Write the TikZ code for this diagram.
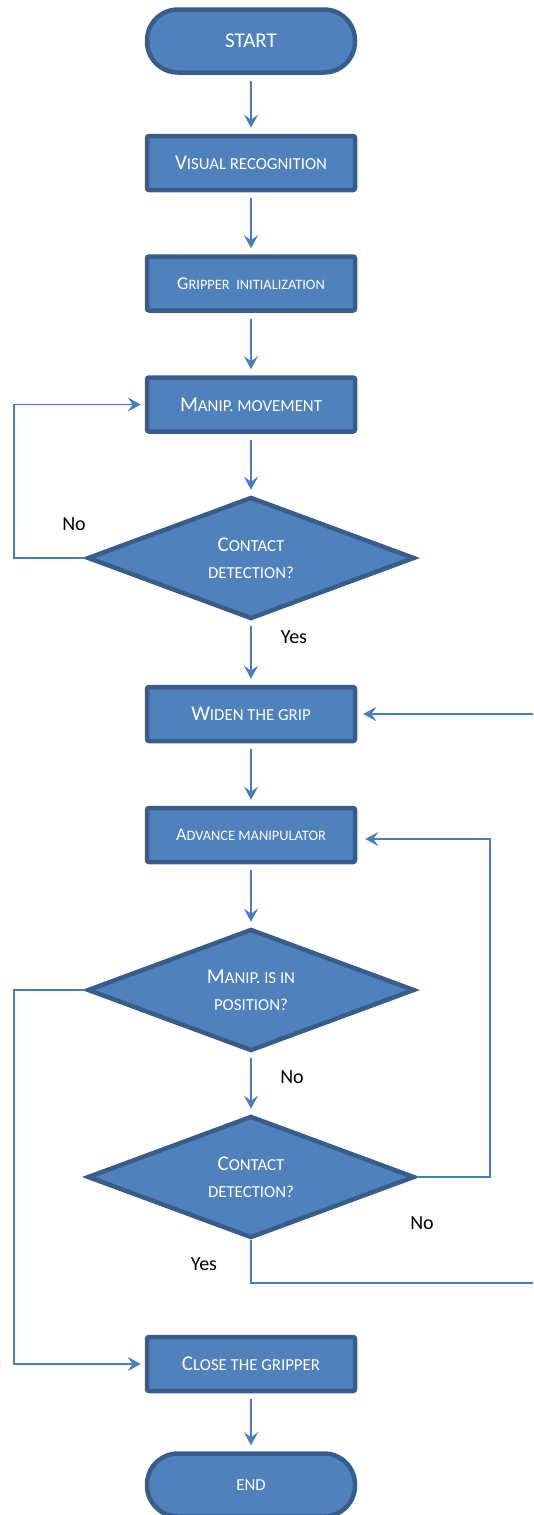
\documentclass[tikz,border=0pt]{standalone}
\usepackage{fontspec}
\setmainfont{Carlito}
\newfontfamily\smallcapsfam[Scale=0.8]{Carlito}
\usetikzlibrary{shapes.geometric,arrows.meta}
\definecolor{boxfill}{HTML}{4F81BD}
\definecolor{boxline}{HTML}{385D8A}
\definecolor{wire}{HTML}{4A7EBB}
% fake small caps: first letter full size, the rest scaled capitals
\newcommand\sct[1]{{\smallcapsfam #1}}
\begin{document}
\begin{tikzpicture}[x=1pt,y=-1pt,
  every node/.style={font=\fontsize{21}{27}\selectfont},
  procbox/.style={rectangle,rounded corners=2pt,draw=boxline,line width=4.5pt,fill=boxfill,
    text=white,minimum width=208pt,minimum height=54pt,inner sep=0pt,align=center},
  termbox/.style={rectangle,rounded corners=31pt,draw=boxline,line width=4.5pt,fill=boxfill,
    text=white,minimum width=208pt,minimum height=63pt,inner sep=0pt,align=center},
  decbox/.style={diamond,aspect=2.6,draw=boxline,line width=4.5pt,fill=boxfill,
    text=white,minimum width=327pt,minimum height=122pt,inner sep=0pt,align=center},
  flow/.style={draw=wire,line width=1.8pt,-{Stealth[length=13pt,width=14pt,inset=5pt]}},
  wireline/.style={draw=wire,line width=1.8pt},
  lbl/.style={text=black,anchor=base,font=\fontsize{20}{24}\selectfont}]
\useasboundingbox (0,0) rectangle (533,1515);

\node[termbox] (start) at (251,41) {START};
\node[procbox] (visual) at (251,163) {V\sct{ISUAL RECOGNITION}};
\node[procbox,font=\fontsize{18}{22}\selectfont] (grip) at (251,283.5) {G\sct{RIPPER\ \ INITIALIZATION}};
\node[procbox] (move) at (251,404.5) {M\sct{ANIP. MOVEMENT}};
\node[decbox] (contact1) at (251,558) {C\sct{ONTACT}\\\sct{DETECTION?}};
\node[procbox] (widen) at (251,714) {W\sct{IDEN THE GRIP}};
\node[procbox,font=\fontsize{18}{22}\selectfont] (advance) at (251,835) {A\sct{DVANCE MANIPULATOR}};
\node[decbox] (inpos) at (251,990) {M\sct{ANIP. IS IN}\\\sct{POSITION?}};
\node[decbox] (contact2) at (251,1177) {C\sct{ONTACT}\\\sct{DETECTION?}};
\node[procbox] (close) at (251,1364) {C\sct{LOSE THE GRIPPER}};
\node[termbox] (finish) at (251,1485) {\sct{END}};

% straight downward flow
\draw[flow,shorten <=6pt,shorten >=6pt] (start) -- (visual);
\draw[flow,shorten <=6pt,shorten >=6pt] (visual) -- (grip);
\draw[flow,shorten <=6pt,shorten >=6pt] (grip) -- (move);
\draw[flow,shorten <=6pt,shorten >=5pt] (move) -- (contact1);
\draw[flow,shorten <=5pt,shorten >=6pt] (contact1) -- (widen);
\draw[flow,shorten <=6pt,shorten >=6pt] (widen) -- (advance);
\draw[flow,shorten <=6pt,shorten >=5pt] (advance) -- (inpos);
\draw[flow,shorten <=5pt,shorten >=5pt] (inpos) -- (contact2);
\draw[flow,shorten <=6pt,shorten >=6pt] (close) -- (finish);

% loops and branches
\draw[flow,shorten >=4pt] (contact1.west) -| (14,480) |- (move.west);
\draw[flow,shorten >=4pt] (inpos.west) -| (14,1200) |- (close.west);
\draw[flow,shorten >=8pt] (contact2.east) -| (490,900) |- ([yshift=-4pt]advance.east);
\coordinate (yesend) at (533,1283);
\coordinate (widenin) at (533,714);
\draw[wireline] (contact2.south) |- (yesend);
\draw[flow,shorten >=6pt] (widenin) -- (widen.east);

% branch labels
\node[lbl] (no1) at (74,530.5) {No};
\node[lbl] (yes1) at (294,643.5) {Yes};
\node[lbl] (no2) at (292,1083.5) {No};
\node[lbl] (no3) at (422,1229) {No};
\node[lbl] (yes3) at (204,1270) {Yes};
\end{tikzpicture}
\end{document}
